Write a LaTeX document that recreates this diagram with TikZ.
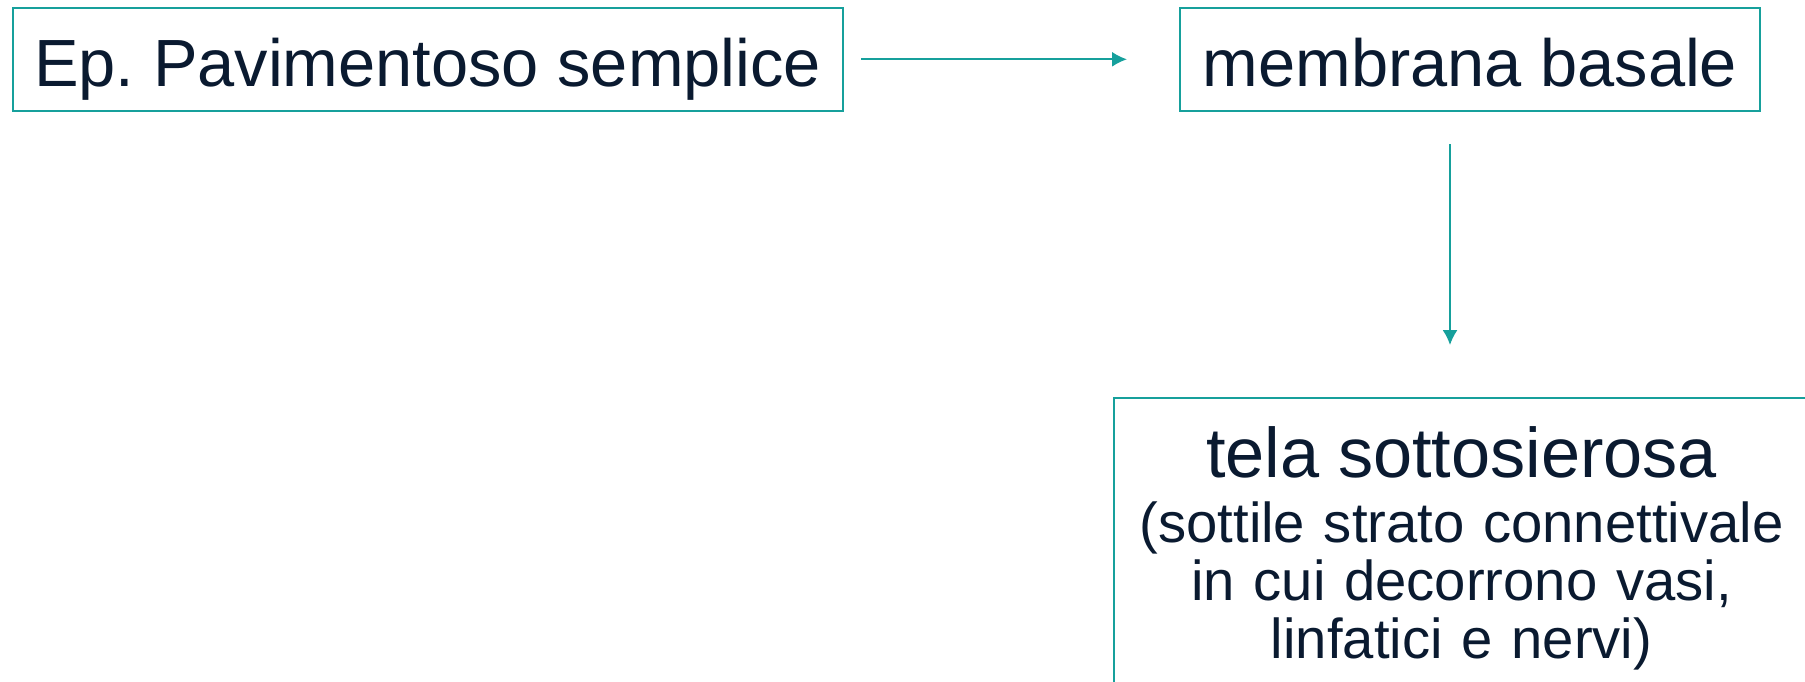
\documentclass[tikz,border=0pt]{standalone}
\usepackage{fontspec}
\setmainfont{Liberation Sans}
\usepackage{tikz}
\usetikzlibrary{arrows.meta,positioning}
\frenchspacing
\definecolor{tealline}{HTML}{16A09C}
\definecolor{inktext}{HTML}{0A1A30}
\tikzset{
    box/.style={
           rectangle,
           draw=tealline, line width=0.6pt,
           text=inktext,
           inner sep=0pt,
           text height=19.4pt,
           text depth=4pt,
           font=\fontsize{19}{22}\selectfont,
           },
    bigbox/.style={
           rectangle,
           draw=tealline, line width=0.6pt,
           text=inktext,
           align=center,
           inner xsep=0.2cm,
           inner ysep=8pt,
           text width=6.55cm,
           font=\fontsize{16}{16.6}\selectfont,
           },
    pil/.style={
           -{Latex[length=4.2pt,width=4.2pt]},
           draw=tealline,
           line width=0.5pt,
           }
}
\begin{document}
\begin{tikzpicture}
\useasboundingbox (0,0) rectangle (18.05,-6.81);
\clip (0,0) rectangle (18.05,-6.81);
\node[box, minimum width=8.30cm, minimum height=1.025cm] (epit) at (4.277,-0.593) {Ep. Pavimentoso semplice};
\node[box, minimum width=5.80cm, minimum height=1.025cm] (memb) at (14.70,-0.593) {membrana basale};
\node[bigbox, anchor=north west] (tela) at (11.13,-3.97)
  {{\fontsize{20}{20}\selectfont tela sottosierosa}\\[1.9pt]
   (sottile strato connettivale\\
   in cui decorrono vasi,\\
   linfatici e nervi)};
\coordinate (drop) at ([xshift=-2mm]memb.south);
\draw[pil, shorten <=0.175cm, shorten >=0.52cm] (epit.east) -- (memb.west);
\draw[pil, shorten <=0.325cm, shorten >=0.52cm] (drop) -- (drop |- tela.north);
\end{tikzpicture}
\end{document}
